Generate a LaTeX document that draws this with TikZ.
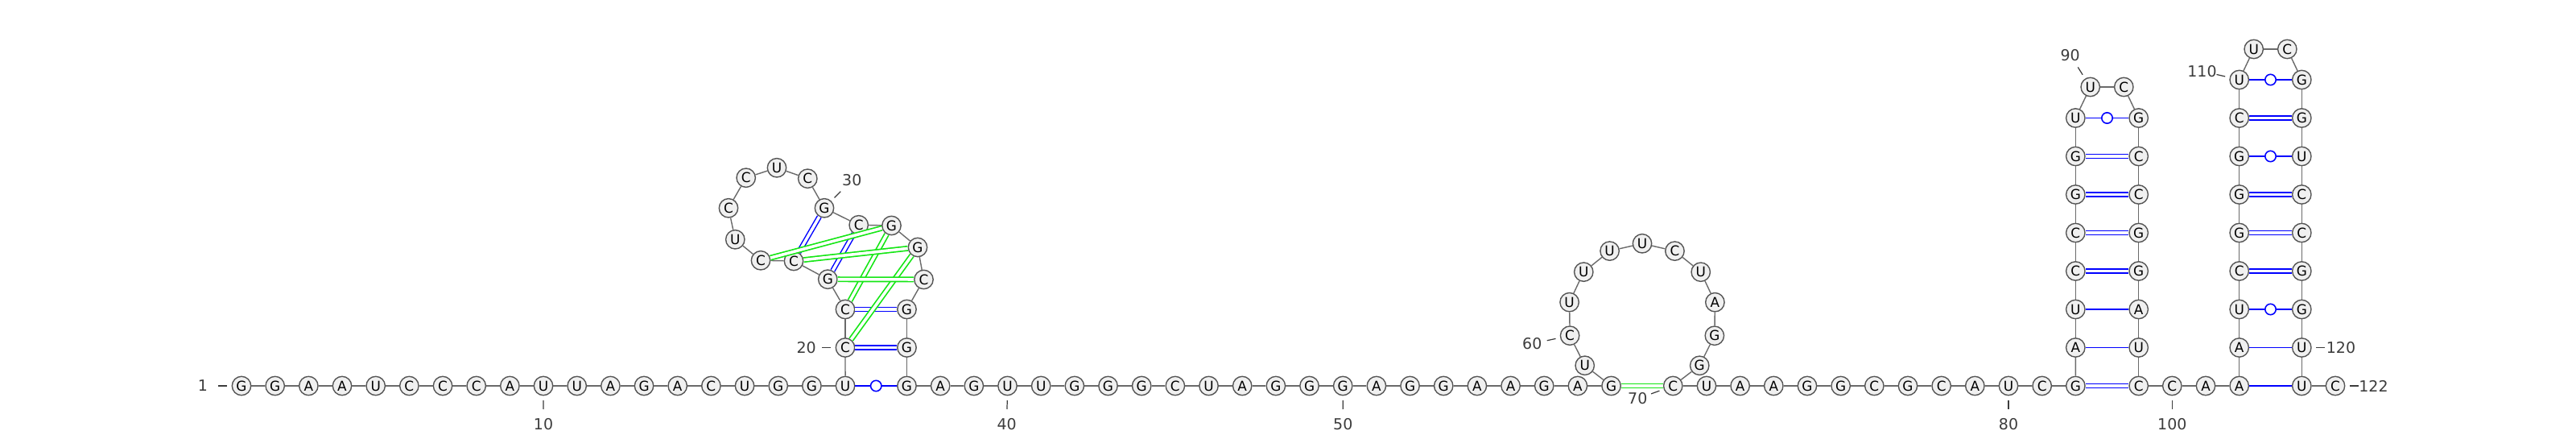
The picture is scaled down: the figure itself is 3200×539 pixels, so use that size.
\documentclass[tikz,border=0pt]{standalone}
\usepackage{fontspec}
\setmainfont{DejaVu Sans}
\usepackage{xcolor}
\usetikzlibrary{calc}

\definecolor{ntfill}{HTML}{F0F0F0}
\definecolor{ntline}{HTML}{555555}
\definecolor{bbone}{HTML}{6A6A6A}
\definecolor{numtext}{HTML}{3C3C3C}
\definecolor{pkgreen}{HTML}{14E614}

\begin{document}
\begin{tikzpicture}[
    x=0.1mm, y=0.1mm,
    nt/.style={circle, draw=ntline, fill=ntfill, line width=0.4pt, minimum size=2.34mm, inner sep=0pt, font=\fontsize{4.8}{5}\selectfont},
    backbone/.style={draw=bbone, line width=0.4pt},
    wc/.style={draw=blue, line width=0.42pt, double=white, double distance=0.36mm},
    au/.style={draw=blue, line width=0.48pt},
    gu/.style={circle, draw=blue, fill=white, line width=0.45pt, minimum size=1.34mm, inner sep=0pt},
    tert/.style={draw=pkgreen, line width=0.48pt, double=white, double distance=0.36mm},
    num/.style={text=numtext, font=\fontsize{5.4}{6}\selectfont, inner sep=0pt},
    tick/.style={draw=numtext, line width=0.35pt}
]

\useasboundingbox (0,0) rectangle (3200,539);

% 5' strand
\foreach \b [count=\i] in {G,G,A,A,U,C,C,C,A,U,U,A,G,A,C,U,G,G,U}
    \node[nt] (n\i) at ({300+(\i-1)*41.67},60) {\b};

% Pseudoknot domain
\node[nt] (n20) at (1050,107.5) {C};
\node[nt] (n21) at (1050,155) {C};
\node[nt] (n22) at (1028.3,192.3) {G};
\node[nt] (n23) at (986,215) {C};
\node[nt] (n24) at (945,215.7) {C};
\node[nt] (n25) at (913.3,241.7) {U};
\node[nt] (n26) at (905,280.7) {C};
\node[nt] (n27) at (926.7,318.3) {C};
\node[nt] (n28) at (965,330.7) {U};
\node[nt] (n29) at (1003.3,317.3) {C};
\node[nt] (n30) at (1024,280.7) {G};
\node[nt] (n31) at (1066.7,259.7) {C};
\node[nt] (n32) at (1107.5,259) {G};
\node[nt] (n33) at (1140,232) {G};
\node[nt] (n34) at (1147.5,192) {C};
\node[nt] (n35) at (1126.5,155) {G};
\node[nt] (n36) at (1126.5,107.5) {G};
\node[nt] (n37) at (1126.5,60) {G};

% Middle strand
\foreach \b [count=\i from 38] in {A,G,U,U,G,G,G,C,U,A,G,G,G,A,G,G,A,A,G,A,G}
    \node[nt] (n\i) at ({1126.5+(\i-37)*41.67},60) {\b};

% Hairpin loop 59-69
\foreach \b [count=\i from 59] in {U,C,U,U,U,U,C,U,A,G,G}
    \node[nt] (n\i) at ({2040+92.5*cos(245.5-(\i-58)*25.92)},{144.2+92.5*sin(245.5-(\i-58)*25.92)}) {\b};
\node[nt] (n70) at (2078.3,60) {C};

\foreach \b [count=\i from 71] in {U,A,A,G,G,C,G,C,A,U,C,G}
    \node[nt] (n\i) at ({2078.3+(\i-70)*41.67},60) {\b};

% Stem-loop 1
\foreach \b [count=\i from 83] in {A,U,C,C,G,G,U}
    \node[nt] (n\i) at (2578.3,{60+(\i-82)*47.5}) {\b};
\node[nt] (n90) at (2596.7,431) {U};
\node[nt] (n91) at (2638.3,431) {C};
\foreach \b [count=\i from 92] in {G,C,C,G,G,A,U}
    \node[nt] (n\i) at (2656.7,{60+(99-\i)*47.5}) {\b};
\node[nt] (n99) at (2656.7,60) {C};
\node[nt] (n100) at (2698.3,60) {C};
\node[nt] (n101) at (2740,60) {A};
\node[nt] (n102) at (2781.7,60) {A};

% Stem-loop 2
\foreach \b [count=\i from 103] in {A,U,C,G,G,G,C,U}
    \node[nt] (n\i) at (2781.7,{60+(\i-102)*47.5}) {\b};
\node[nt] (n111) at (2799.7,478) {U};
\node[nt] (n112) at (2841.3,478) {C};
\foreach \b [count=\i from 113] in {G,G,U,C,C,G,G,U}
    \node[nt] (n\i) at (2859.3,{60+(121-\i)*47.5}) {\b};
\node[nt] (n121) at (2859.3,60) {U};
\node[nt] (n122) at (2901,60) {C};

% Backbone
\foreach \i [remember=\i as \j (initially 1)] in {2,...,122}
    \draw[backbone] (n\j) -- (n\i);

% Base pairs
\foreach \a/\b in {20/36,21/35,22/31,23/30,82/99,85/96,86/95,87/94,88/93,105/118,106/117,107/116,109/114}
    \draw[wc] (n\a) -- (n\b);
\foreach \a/\b in {83/98,84/97,102/121,103/120}
    \draw[au] (n\a) -- (n\b);
\foreach \a/\b in {19/37,89/92,104/119,108/115,110/113}
    \draw[au] (n\a) -- node[gu] (w\a) {} (n\b);
\foreach \a/\b in {20/33,21/32,22/34,23/33,24/32,58/70}
    \draw[tert] (n\a) -- (n\b);

% Numbering
\foreach \n/\x/\y in {1/252/60, 10/675/12.3, 20/1001.7/107.5, 30/1058.3/315.7,
        40/1250.7/12.3, 50/1668.3/12.3, 60/1903.3/112.3, 70/2034.3/44,
        80/2495/12.3, 90/2571.7/470.7, 100/2698.3/12.3, 110/2735.5/450.7,
        120/2908/107.5, 122/2948.5/60} {
    \node[num] (l\n) at (\x,\y) {\n};
    \draw[tick] ($(n\n)!1.8mm!(l\n)$) -- ($(n\n)!2.9mm!(l\n)$);
}

\end{tikzpicture}
\end{document}
